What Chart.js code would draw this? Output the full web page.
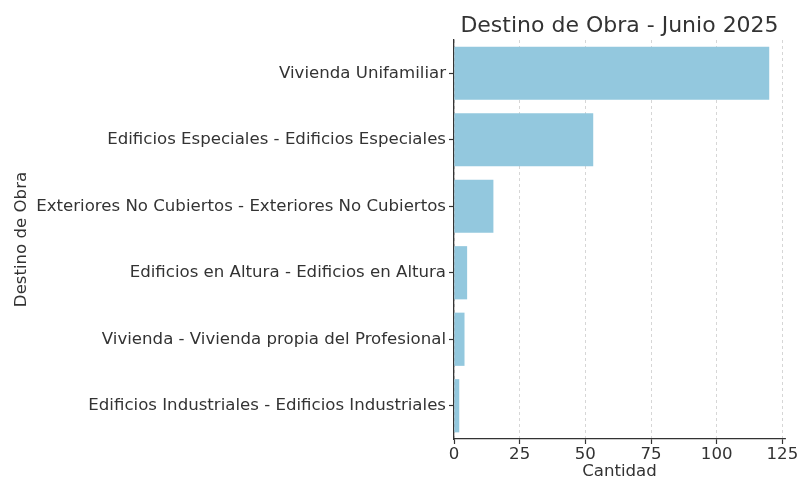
<!DOCTYPE html>
<html>
<head>
<meta charset="utf-8">
<script src="https://cdn.jsdelivr.net/npm/chart.js@4"></script>
<style>
  html, body { margin: 0; padding: 0; background: #fff; }
  #wrap { width: 800px; height: 498px; }
</style>
</head>
<body>
<div id="wrap"><canvas id="myChart" width="800" height="498"></canvas></div>
<script>
// Data
const categories = [
    'Vivienda Unifamiliar',
    'Edificios Especiales - Edificios Especiales',
    'Exteriores No Cubiertos - Exteriores No Cubiertos',
    'Edificios en Altura - Edificios en Altura',
    'Vivienda - Vivienda propia del Profesional',
    'Edificios Industriales - Edificios Industriales'
];
const cantidades = [120, 53, 15, 5, 4, 2];
const xTicks = [0, 25, 50, 75, 100, 125];

const textColor = '#333333';
const fontFamily = '"DejaVu Sans", sans-serif';

// Title centered over the plot area (like matplotlib's ax.set_title)
const plotTitle = {
    id: 'plotTitle',
    afterDraw(chart) {
        const { ctx, chartArea } = chart;
        ctx.save();
        ctx.font = '22px ' + fontFamily;
        ctx.fillStyle = textColor;
        ctx.textAlign = 'center';
        ctx.textBaseline = 'alphabetic';
        ctx.fillText('Destino de Obra - Junio 2025', (chartArea.left + chartArea.right) / 2, 32);
        ctx.restore();
    }
};

const ctx = document.getElementById('myChart').getContext('2d');
new Chart(ctx, {
    type: 'bar',
    data: {
        labels: categories,
        datasets: [{
            label: 'Cantidad',
            data: cantidades,
            backgroundColor: '#93C8DE',
            borderWidth: 0,
            categoryPercentage: 0.8,
            barPercentage: 1.0
        }]
    },
    options: {
        indexAxis: 'y',
        responsive: false,
        animation: false,
        layout: { padding: { top: 40, right: 15, left: 0, bottom: 16 } },
        plugins: {
            legend: { display: false },
            tooltip: { enabled: false }
        },
        scales: {
            x: {
                min: 0,
                max: 126,
                afterBuildTicks: scale => {
                    scale.ticks = xTicks.map(v => ({ value: v }));
                },
                afterFit: scale => { scale.height = 43; },
                grid: {
                    color: '#cccccc',
                    lineWidth: 0.8,
                    drawTicks: true,
                    tickLength: 5,
                    tickColor: textColor,
                    tickBorderDash: [],
                    tickWidth: 1.2
                },
                border: { display: true, color: textColor, width: 1.3, dash: [3, 3] },
                ticks: {
                    color: textColor,
                    font: { family: fontFamily, size: 16.6 },
                    padding: 1
                },
                title: {
                    display: true,
                    text: 'Cantidad',
                    color: textColor,
                    font: { family: fontFamily, size: 16.6 },
                    padding: { top: 0, bottom: 0 }
                }
            },
            y: {
                afterFit: scale => { scale.width = 454; },
                grid: {
                    display: true,
                    drawOnChartArea: false,
                    offset: false,
                    drawTicks: true,
                    tickLength: 5,
                    tickColor: textColor,
                    tickWidth: 1.2
                },
                border: { display: true, color: textColor, width: 1.3 },
                ticks: {
                    color: textColor,
                    font: { family: fontFamily, size: 16.6 },
                    padding: 3
                },
                title: {
                    display: true,
                    text: 'Destino de Obra',
                    color: textColor,
                    font: { family: fontFamily, size: 16.6 },
                    padding: { top: 12, bottom: 0 }
                }
            }
        }
    },
    plugins: [plotTitle]
});
</script>
</body>
</html>
